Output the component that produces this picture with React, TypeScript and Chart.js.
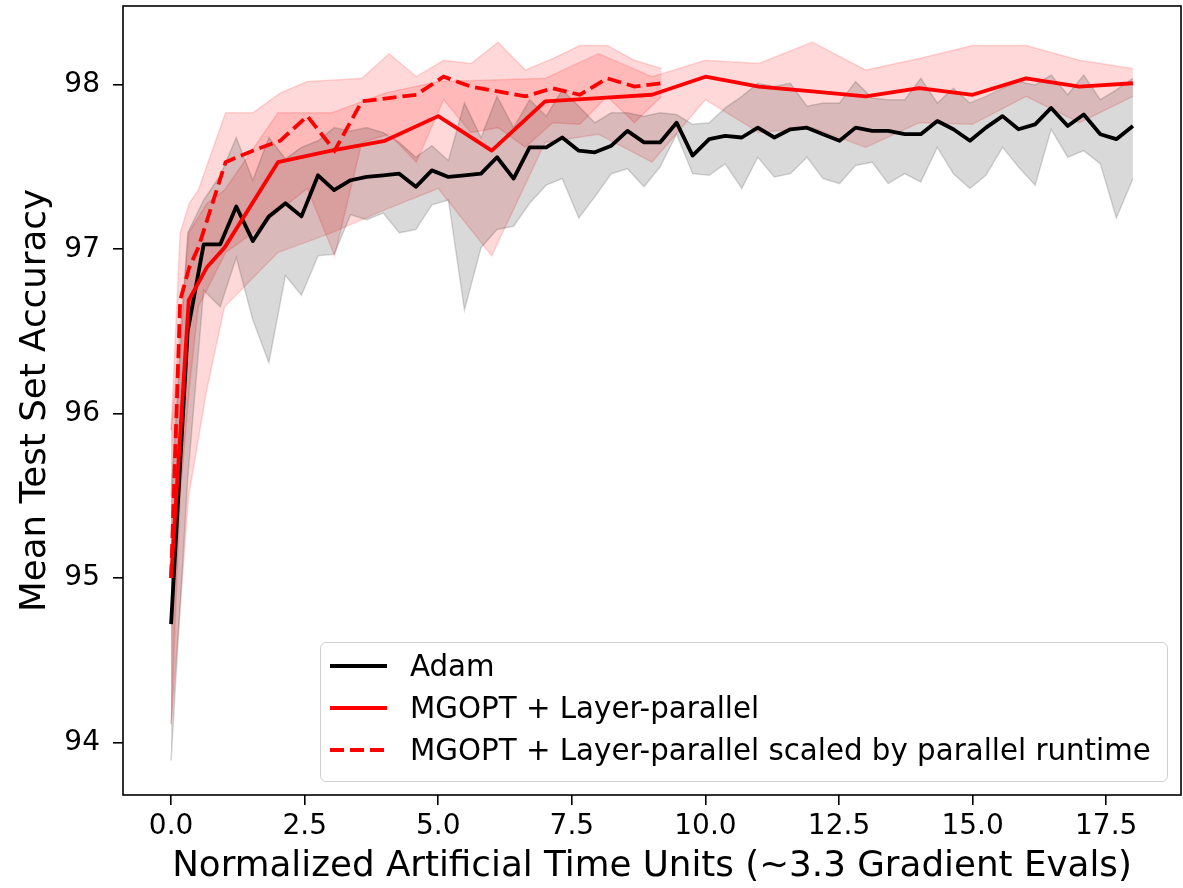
import React, { useEffect, useRef } from 'react';
import { Chart, registerables } from 'chart.js';

Chart.register(...registerables);

// ---- Data ----
const adamX = [
  0, 0.31, 0.61, 0.92, 1.22, 1.53, 1.83, 2.14, 2.44, 2.75,
  3.05, 3.36, 3.66, 3.97, 4.27, 4.58, 4.88, 5.19, 5.49, 5.8,
  6.1, 6.41, 6.71, 7.02, 7.32, 7.63, 7.93, 8.24, 8.54, 8.85,
  9.15, 9.46, 9.76, 10.07, 10.37, 10.68, 10.98, 11.29, 11.59, 11.9,
  12.2, 12.51, 12.81, 13.12, 13.42, 13.73, 14.03, 14.34, 14.64, 14.95,
  15.25, 15.56, 15.86, 16.17, 16.47, 16.78, 17.08, 17.39, 17.69, 18.0,
];
const adamMean = [
  94.72, 96.5, 97.03, 97.03, 97.26, 97.05, 97.2, 97.28, 97.2, 97.45,
  97.36, 97.42, 97.44, 97.45, 97.46, 97.38, 97.48, 97.44, 97.45, 97.46,
  97.56, 97.43, 97.62, 97.62, 97.68, 97.6, 97.59, 97.63, 97.72, 97.65,
  97.65, 97.77, 97.57, 97.67, 97.69, 97.68, 97.74, 97.68, 97.73, 97.74,
  97.7, 97.66, 97.74, 97.72, 97.72, 97.7, 97.7, 97.78, 97.73, 97.66,
  97.74, 97.81, 97.73, 97.76, 97.86, 97.75, 97.82, 97.7, 97.67, 97.75,
];
const adamUpper = [
  95.5, 97.1, 97.3, 97.45, 97.68, 97.42, 97.68, 97.55, 97.62, 97.66,
  97.74, 97.72, 97.74, 97.71, 97.65, 97.56, 97.63, 97.54, 97.89, 97.68,
  97.93, 97.74, 97.91, 97.81, 97.97, 97.87, 97.77, 97.83, 97.83, 97.81,
  97.83, 97.82, 97.76, 97.77, 97.86, 97.93, 98.01, 97.99, 98.01, 97.87,
  97.89, 97.89, 98.02, 97.92, 97.91, 97.91, 98.04, 97.89, 97.98, 97.89,
  97.93, 97.98, 98.02, 98.0, 98.06, 97.94, 98.06, 97.91, 97.97, 98.04,
];
const adamLower = [
  93.89, 95.6, 96.75, 96.65, 96.95, 96.57, 96.31, 96.84, 96.72, 96.96,
  96.97, 97.21, 97.18, 97.22, 97.1, 97.12, 97.27, 97.3, 96.63, 97.01,
  97.12, 97.14, 97.28, 97.39, 97.43, 97.19, 97.32, 97.46, 97.49, 97.38,
  97.5, 97.7, 97.46, 97.45, 97.52, 97.37, 97.56, 97.44, 97.46, 97.56,
  97.43, 97.4, 97.51, 97.53, 97.4, 97.46, 97.41, 97.62, 97.46, 97.37,
  97.45, 97.62, 97.5, 97.39, 97.73, 97.56, 97.6, 97.52, 97.19, 97.43,
];

const mgX = [0, 0.33, 0.67, 1, 2, 3, 4, 5, 6, 7, 8, 9, 10, 11, 12, 13, 14, 15, 16, 17, 18];
const mgScaledX = [
  0, 0.17, 0.34, 0.51, 1.02, 1.53, 2.04, 2.55, 3.06, 3.57, 4.08,
  4.59, 5.1, 5.61, 6.12, 6.63, 7.14, 7.65, 8.16, 8.67, 9.18,
];
const mgMean = [
  95.0, 96.69, 96.89, 97.01, 97.53, 97.6, 97.66, 97.81, 97.6, 97.9, 97.92,
  97.94, 98.05, 97.99, 97.96, 97.93, 97.98, 97.94, 98.04, 97.99, 98.01,
];
const mgUpper = [
  95.9, 97.1, 97.28, 97.36, 97.83, 97.83, 97.95, 98.02, 98.03, 98.04, 98.19,
  98.05, 98.15, 98.13, 98.26, 98.09, 98.16, 98.24, 98.24, 98.15, 98.1,
];
const mgLower = [
  94.11, 95.5, 96.15, 96.65, 96.98, 97.1, 97.24, 97.37, 96.96, 97.65, 97.7,
  97.53, 97.91, 97.71, 97.74, 97.62, 97.77, 97.76, 97.93, 97.77, 97.93,
];

const xTicks = [0, 2.5, 5, 7.5, 10, 12.5, 15, 17.5];
const yTicks = [94, 95, 96, 97, 98];
const legendLabels = [
  'Adam',
  'MGOPT + Layer-parallel',
  'MGOPT + Layer-parallel scaled by parallel runtime',
];
const xTitle = 'Normalized Artificial Time Units (~3.3 Gradient Evals)';
const yTitle = 'Mean Test Set Accuracy';

const FONT = "'DejaVu Sans', sans-serif";

const pts = (xs: number[], ys: number[]) => xs.map((x, i) => ({ x, y: ys[i] }));

const framePlugin = {
  id: 'frame',
  afterDraw(chart: any) {
    const { ctx, chartArea } = chart;
    const { left, top, right, bottom } = chartArea;
    ctx.save();
    ctx.strokeStyle = '#000';
    ctx.lineWidth = 1.6;
    ctx.strokeRect(left, top, right - left, bottom - top);
    ctx.restore();
  },
};

export default function App() {
  const canvasRef = useRef<HTMLCanvasElement | null>(null);

  useEffect(() => {
    if (!canvasRef.current) return;
    Chart.defaults.color = '#000';
    const bandLine = (c: string) => ({ borderColor: c, borderWidth: 1.5, pointRadius: 0, tension: 0 });
    const chart = new Chart(canvasRef.current, {
      type: 'line',
      data: {
        datasets: [
          {
            label: legendLabels[2],
            data: pts(mgScaledX, mgMean),
            borderColor: '#ff0000',
            borderWidth: 3.8,
            borderDash: [14, 6],
            pointRadius: 0,
            fill: false,
            order: 0,
          },
          {
            label: legendLabels[1],
            data: pts(mgX, mgMean),
            borderColor: '#ff0000',
            borderWidth: 3.8,
            borderJoinStyle: 'round',
            pointRadius: 0,
            fill: false,
            order: 0,
          },
          {
            label: legendLabels[0],
            data: pts(adamX, adamMean),
            borderColor: '#000000',
            borderWidth: 3.8,
            borderJoinStyle: 'round',
            pointRadius: 0,
            fill: false,
            order: 0,
          },
          {
            label: 'adam-lower',
            data: pts(adamX, adamLower),
            ...bandLine('rgba(0,0,0,0.15)'),
            fill: false,
            order: 1,
          },
          {
            label: 'adam-upper',
            data: pts(adamX, adamUpper),
            ...bandLine('rgba(0,0,0,0.15)'),
            backgroundColor: 'rgba(0,0,0,0.15)',
            fill: 3,
            order: 1,
          },
          {
            label: 'mg-lower',
            data: pts(mgX, mgLower),
            ...bandLine('rgba(255,0,0,0.15)'),
            fill: false,
            order: 1,
          },
          {
            label: 'mg-upper',
            data: pts(mgX, mgUpper),
            ...bandLine('rgba(255,0,0,0.15)'),
            backgroundColor: 'rgba(255,0,0,0.15)',
            fill: 5,
            order: 1,
          },
          {
            label: 'mgs-lower',
            data: pts(mgScaledX, mgLower),
            ...bandLine('rgba(255,0,0,0.15)'),
            fill: false,
            order: 1,
          },
          {
            label: 'mgs-upper',
            data: pts(mgScaledX, mgUpper),
            ...bandLine('rgba(255,0,0,0.15)'),
            backgroundColor: 'rgba(255,0,0,0.15)',
            fill: 7,
            order: 1,
          },
        ] as any,
      },
      options: {
        responsive: false,
        animation: false,
        devicePixelRatio: 1,
        layout: { padding: { left: 0, top: 6, right: 2, bottom: 0 } },
        plugins: {
          legend: { display: false },
          tooltip: { enabled: false },
        },
        scales: {
          x: {
            type: 'linear',
            min: -0.9,
            max: 18.9,
            afterBuildTicks: (s: any) => {
              s.ticks = xTicks.map((v) => ({ value: v }));
            },
            afterFit: (s: any) => {
              s.height = 93;
              s.paddingLeft = 0;
              s.paddingRight = 0;
            },
            ticks: {
              autoSkip: false,
              maxRotation: 0,
              padding: 5,
              color: '#000',
              font: { family: FONT, size: 28 },
              callback: (v: any) => Number(v).toFixed(1),
            },
            grid: {
              drawOnChartArea: false,
              drawTicks: true,
              tickLength: 10,
              color: '#000',
              lineWidth: 1.6,
            },
            border: { display: false },
            title: {
              display: true,
              text: xTitle,
              color: '#000',
              font: { family: FONT, size: 35.7 },
              padding: { top: 0, bottom: 0 },
            },
          },
          y: {
            type: 'linear',
            min: 93.68,
            max: 98.48,
            afterBuildTicks: (s: any) => {
              s.ticks = yTicks.map((v) => ({ value: v }));
            },
            afterFit: (s: any) => {
              s.width = 123;
              s.paddingTop = 0;
              s.paddingBottom = 0;
            },
            ticks: {
              padding: 13,
              color: '#000',
              font: { family: FONT, size: 28 },
              callback: (v: any) => String(v),
            },
            grid: {
              drawOnChartArea: false,
              drawTicks: true,
              tickLength: 10,
              color: '#000',
              lineWidth: 1.6,
            },
            border: { display: false },
            title: {
              display: true,
              text: yTitle,
              color: '#000',
              font: { family: FONT, size: 35.7 },
              padding: { top: 14, bottom: 0 },
            },
          },
        },
      } as any,
      plugins: [framePlugin],
    });
    return () => chart.destroy();
  }, []);

  const rows = [
    { label: legendLabels[0], color: '#000', dash: undefined as string | undefined, top: 23 },
    { label: legendLabels[1], color: '#ff0000', dash: undefined, top: 65 },
    { label: legendLabels[2], color: '#ff0000', dash: '14 6', top: 107 },
  ];

  return (
    <div style={{ position: 'absolute', left: 0, top: 0, width: 1183, height: 888, background: '#fff' }}>
      <canvas ref={canvasRef} width={1183} height={888} style={{ display: 'block' }} />
      <div
        style={{
          position: 'absolute',
          left: 320,
          top: 642,
          width: 848,
          height: 140,
          boxSizing: 'border-box',
          border: '1.5px solid #d0d0d0',
          borderRadius: 6,
          background: 'rgba(255,255,255,0.8)',
          fontFamily: FONT,
          fontSize: 29.3,
          color: '#000',
        }}
      >
        {rows.map((r) => (
          <div
            key={r.label}
            style={{
              position: 'absolute',
              left: 0,
              top: r.top - 20,
              height: 40,
              display: 'flex',
              alignItems: 'center',
              whiteSpace: 'nowrap',
            }}
          >
            <svg width={57} height={8} style={{ marginLeft: 9, display: 'block' }}>
              <line x1={0} y1={4} x2={57} y2={4} stroke={r.color} strokeWidth={3.8} strokeDasharray={r.dash} />
            </svg>
            <span style={{ marginLeft: 23, lineHeight: '40px' }}>{r.label}</span>
          </div>
        ))}
      </div>
    </div>
  );
}
